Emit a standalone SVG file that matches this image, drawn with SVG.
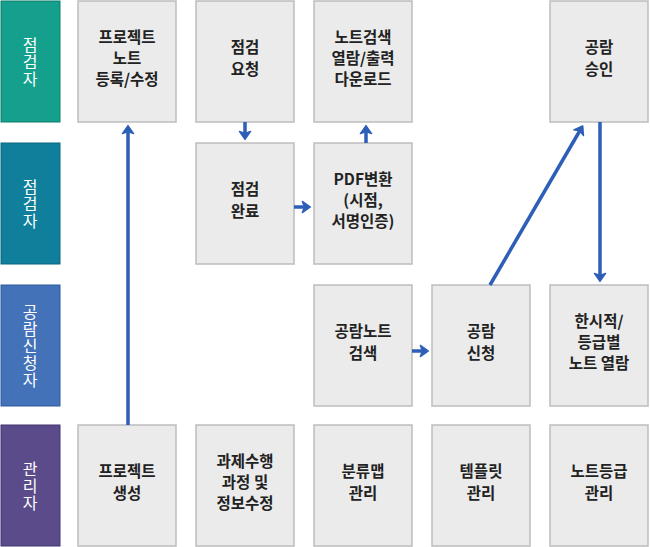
<svg xmlns="http://www.w3.org/2000/svg" width="650" height="547" viewBox="0 0 650 547">
<style>
.n rect{fill:#ebebeb;stroke:#bdbdbd;stroke-width:1.5}
.n text{font-family:"Noto Sans CJK KR","Noto Sans",sans-serif;font-size:15.5px;font-weight:600;fill:#222;text-anchor:middle}
.r text{font-family:"Noto Sans CJK KR",sans-serif;font-size:16px;fill:#fff;text-anchor:middle;writing-mode:vertical-rl;letter-spacing:1px}
.c line{stroke:#2d5fb8;stroke-width:3.5;marker-end:url(#a)}
</style>
<defs><marker id="a" markerWidth="4" markerHeight="4" refX="2.2" refY="2" orient="auto" markerUnits="strokeWidth"><path d="M0.3,0.4 L2.6,2 L0.3,3.6 L0.9,2 Z" fill="#2d5fb8" stroke="#2d5fb8" stroke-width="0.4" stroke-linejoin="round"/></marker></defs>
<g class="r" id="role1"><rect x="1" y="1" width="59" height="121" fill="#14a08c" stroke="#0e7f6e"/><text x="30" y="62">점검자</text></g>
<g class="r" id="role2"><rect x="1" y="143" width="59" height="121" fill="#0f7f9b" stroke="#0a6680"/><text x="30" y="204">점검자</text></g>
<g class="r" id="role3"><rect x="1" y="285" width="59" height="121" fill="#4472b8" stroke="#2f5a9c"/><text x="30" y="346">공람신청자</text></g>
<g class="r" id="role4"><rect x="1" y="425" width="59" height="121" fill="#5b4b8a" stroke="#433670"/><text x="30" y="486">관리자</text></g>

<g class="n" id="n1"><rect x="78" y="1" width="98" height="121"/><text x="127" y="43">프로젝트</text><text x="127" y="64">노트</text><text x="127" y="85">등록/수정</text></g>
<g class="n" id="n2"><rect x="196" y="1" width="98" height="121"/><text x="245" y="53">점검</text><text x="245" y="75">요청</text></g>
<g class="n" id="n3"><rect x="314" y="1" width="98" height="121"/><text x="363" y="43">노트검색</text><text x="363" y="64">열람/출력</text><text x="363" y="85">다운로드</text></g>
<g class="n" id="n4"><rect x="550" y="1" width="98" height="121"/><text x="599" y="53">공람</text><text x="599" y="75">승인</text></g>
<g class="n" id="n5"><rect x="196" y="143" width="98" height="121"/><text x="245" y="195">점검</text><text x="245" y="217">완료</text></g>
<g class="n" id="n6"><rect x="314" y="143" width="98" height="121"/><text x="363" y="185">PDF변환</text><text x="363" y="206">(시점,</text><text x="363" y="227">서명인증)</text></g>
<g class="n" id="n7"><rect x="314" y="285" width="98" height="121"/><text x="363" y="337">공람노트</text><text x="363" y="359">검색</text></g>
<g class="n" id="n8"><rect x="432" y="285" width="98" height="121"/><text x="481" y="337">공람</text><text x="481" y="359">신청</text></g>
<g class="n" id="n9"><rect x="550" y="285" width="98" height="121"/><text x="599" y="327">한시적/</text><text x="599" y="348">등급별</text><text x="599" y="369">노트 열람</text></g>
<g class="n" id="n10"><rect x="78" y="425" width="98" height="121"/><text x="127" y="477">프로젝트</text><text x="127" y="499">생성</text></g>
<g class="n" id="n11"><rect x="196" y="425" width="98" height="121"/><text x="245" y="467">과제수행</text><text x="245" y="488">과정 및</text><text x="245" y="509">정보수정</text></g>
<g class="n" id="n12"><rect x="314" y="425" width="98" height="121"/><text x="363" y="477">분류맵</text><text x="363" y="499">관리</text></g>
<g class="n" id="n13"><rect x="432" y="425" width="98" height="121"/><text x="481" y="477">템플릿</text><text x="481" y="499">관리</text></g>
<g class="n" id="n14"><rect x="550" y="425" width="98" height="121"/><text x="599" y="477">노트등급</text><text x="599" y="499">관리</text></g>

<g class="c" id="connectors">
<line x1="128" y1="425" x2="128" y2="127"/>
<line x1="245" y1="122" x2="245" y2="138"/>
<line x1="294" y1="207" x2="309" y2="207"/>
<line x1="366" y1="143" x2="366" y2="127"/>
<line x1="412" y1="351" x2="427" y2="351"/>
<line x1="490" y1="285" x2="582" y2="127"/>
<line x1="600" y1="122" x2="600" y2="280"/>
</g>
</svg>
